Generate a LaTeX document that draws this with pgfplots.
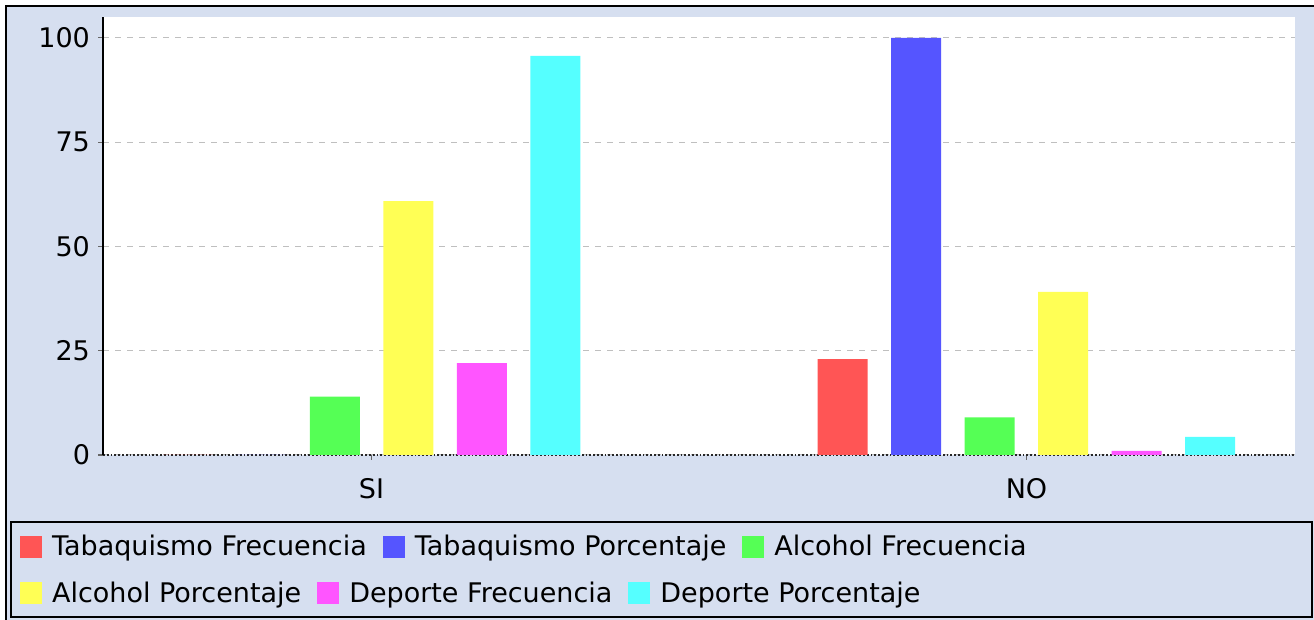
\documentclass[border=0pt]{standalone}
\usepackage{pgfplots}
\pgfplotsset{compat=1.18}
\usepackage{fontspec}
\setmainfont{DejaVu Sans}
\definecolor{bgblue}{RGB}{214,223,240}
\definecolor{cRed}{HTML}{FF5555}
\definecolor{cBlue}{HTML}{5555FF}
\definecolor{cGreen}{HTML}{55FF55}
\definecolor{cYellow}{HTML}{FFFF55}
\definecolor{cMagenta}{HTML}{FF55FF}
\definecolor{cCyan}{HTML}{55FFFF}
\newcommand{\chartfont}{\fontsize{13.5}{16}\selectfont}
\pgfplotsset{
  sq legend/.style={legend image code/.code={\fill[##1] (0pt,-5.5pt) rectangle (11pt,5.5pt);}},
  mylegend/.style={
    legend columns=-1,
    legend cell align=left,
    legend style={draw=none, fill=none, inner sep=0pt, outer sep=0pt,
      font=\chartfont,
      nodes={inner sep=0pt},
      /tikz/every odd column/.append style={column sep=5pt},
      /tikz/every even column/.append style={column sep=8pt},
    },
  },
}
\begin{document}
\begin{tikzpicture}[font=\chartfont]
\useasboundingbox (0,0) rectangle (657pt,310pt);
\fill[white] (0,0) rectangle (657pt,310pt);
\fill[bgblue] (3.5pt,0) rectangle (657pt,306.5pt);
\fill[black] (2.5pt,0) rectangle (3.5pt,307.5pt);
\fill[black] (2.5pt,306.5pt) rectangle (657pt,307.5pt);
\draw[black, line width=1pt] (5.5pt,1.5pt) rectangle (656pt,49pt);
\begin{axis}[
  at={(51.5pt,82.5pt)}, anchor=south west,
  scale only axis, width=596pt, height=219pt,
  xmin=-0.41, xmax=1.41, ymin=0, ymax=105,
  axis x line*=bottom, axis y line*=left,
  ybar=11.75pt, bar width=25pt,
  xtick={0,1}, xticklabels={SI,NO},
  ytick={0,25,50,75,100},
  ymajorgrids, major grid style={dashed, color=black!25, line width=0.5pt},
  tick align=outside, major tick length=2.5pt,
  tick style={black!60, line width=0.6pt},
  x axis line style={densely dotted, black!85, line width=0.9pt},
  y axis line style={black, line width=0.8pt},
  axis background/.style={fill=white},
  /pgf/number format/assume math mode=true,
  tick label style={font=\chartfont, black},
  xticklabel style={yshift=-5.5pt},
  yticklabel style={xshift=-0.5pt},
  mylegend,
  legend style={at={(axis description cs:-0.0696,-0.21)}, anchor=west},
]
\addplot[fill=cRed, draw=none, sq legend] coordinates {(0,0) (1,23)};
\addplot[fill=cBlue, draw=none, sq legend] coordinates {(0,0) (1,100)};
\addplot[fill=cGreen, draw=none, sq legend] coordinates {(0,14) (1,9)};
\addplot[fill=cYellow, draw=none, sq legend] coordinates {(0,60.87) (1,39.13)};
\addplot[fill=cMagenta, draw=none, sq legend] coordinates {(0,22) (1,1)};
\addplot[fill=cCyan, draw=none, sq legend] coordinates {(0,95.65) (1,4.35)};
\legend{Tabaquismo Frecuencia, Tabaquismo Porcentaje, Alcohol Frecuencia}
\end{axis}
\begin{axis}[
  at={(51.5pt,82.5pt)}, anchor=south west,
  scale only axis, width=596pt, height=219pt,
  xmin=0, xmax=1, ymin=0, ymax=1, hide axis,
  mylegend,
  legend style={at={(axis description cs:-0.0696,-0.3162)}, anchor=west},
]
\addlegendimage{fill=cYellow, draw=none, sq legend}
\addlegendentry{Alcohol Porcentaje}
\addlegendimage{fill=cMagenta, draw=none, sq legend}
\addlegendentry{Deporte Frecuencia}
\addlegendimage{fill=cCyan, draw=none, sq legend}
\addlegendentry{Deporte Porcentaje}
\end{axis}
\end{tikzpicture}
\end{document}
